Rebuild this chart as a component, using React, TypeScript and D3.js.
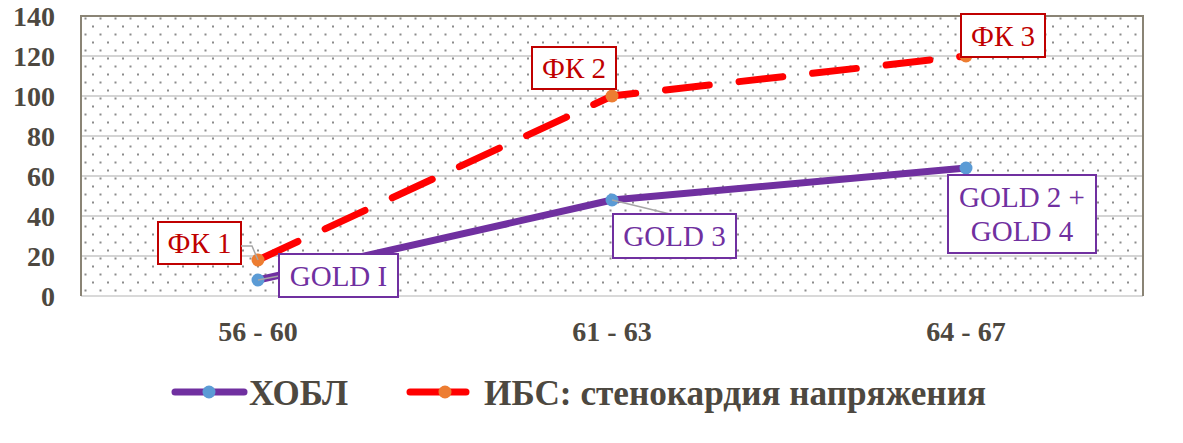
import React from "react";
import * as d3 from "d3";

const categories = ["56 - 60", "61 - 63", "64 - 67"];
const copdValues = [8, 48, 64];
const ihdValues = [18, 100, 120];
const copdLabels = [["GOLD I"], ["GOLD 3"], ["GOLD 2 +", "GOLD 4"]];
const ihdLabels = [["ФК 1"], ["ФК 2"], ["ФК 3"]];
const yTicks = [0, 20, 40, 60, 80, 100, 120, 140];
const seriesNames = ["ХОБЛ", "ИБС: стенокардия напряжения"];

const W = 1183, H = 443;
const M = { left: 81, right: 1143, top: 16, bottom: 296 };

// label box offsets relative to data point (dx,dy of box top-left), size
const copdBoxes = [
  { dx: 21, dy: -26, w: 119, h: 43 },
  { dx: 1, dy: 14, w: 123, h: 44 },
  { dx: -18, dy: 7, w: 148, h: 78 },
];
const ihdBoxes = [
  { dx: -100, dy: -38, w: 83, h: 42 },
  { dx: -80, dy: -49, w: 84, h: 42 },
  { dx: -5, dy: -42, w: 84, h: 43 },
];

export default function App() {
  const x = d3.scaleBand<string>().domain(categories).range([M.left, M.right]);
  const y = d3.scaleLinear().domain([0, 140]).range([M.bottom, M.top]);
  const cx = (i: number) => (x(categories[i]) as number) + x.bandwidth() / 2;
  const line = d3.line<number>().x((_, i) => cx(i)).y((d) => y(d));
  const tickColor = "#4d4840";
  const serif = "'Liberation Serif', 'Times New Roman', serif";
  const purple = "#7030a0";
  const red = "#c00000";

  const renderLabel = (
    i: number, v: number, lines: string[], b: { dx: number; dy: number; w: number; h: number },
    color: string, leader: [number, number] | null
  ) => {
    const px = cx(i), py = y(v);
    const bx = px + b.dx, by = py + b.dy;
    return (
      <g key={lines.join()}>
        {leader && (
          <polyline
            points={`${px},${py} ${leader[0]},${leader[1]}`}
            fill="none" stroke="#a6a6a6" strokeWidth={1.5}
          />
        )}
        <rect x={bx} y={by} width={b.w} height={b.h} fill="#fff" stroke={color} strokeWidth={2} />
        {lines.map((t, k) => (
          <text key={k} x={bx + b.w / 2} y={by + b.h / 2 + (k - (lines.length - 1) / 2) * 34 + 10}
            textAnchor="middle" fontFamily={serif} fontSize={29} fill={color}>{t}</text>
        ))}
      </g>
    );
  };

  return (
    <svg width={W} height={H} style={{ position: "absolute", left: 0, top: 0, background: "#fff" }}>
      <defs>
        <pattern id="dots" patternUnits="userSpaceOnUse" width={15} height={16} x={M.left} y={M.top}>
          <rect x={3.5} y={1.5} width={2} height={2} fill="#8c8c8c" />
          <rect x={11} y={9.5} width={2} height={2} fill="#8c8c8c" />
        </pattern>
      </defs>
      <rect x={M.left} y={M.top} width={M.right - M.left} height={M.bottom - M.top} fill="url(#dots)" />
      {yTicks.map((t) => (
        <g key={t}>
          {t > 0 && t < 140 && (
            <line x1={M.left} x2={M.right} y1={y(t)} y2={y(t)} stroke="#d4d4d4" strokeWidth={2} />
          )}
          <text x={55} y={y(t) + 10} textAnchor="end" fontFamily={serif} fontWeight="bold"
            fontSize={28} fill={tickColor}>{t}</text>
        </g>
      ))}
      <line x1={M.left} x2={M.right} y1={M.bottom} y2={M.bottom} stroke="#d9d9d9" strokeWidth={2} />
      <polyline points={`${M.left},${M.bottom} ${M.left},${M.top} ${M.right},${M.top} ${M.right},${M.bottom}`}
        fill="none" stroke="#8a8475" strokeWidth={2} />
      {categories.map((c, i) => (
        <text key={c} x={cx(i)} y={341} textAnchor="middle" fontFamily={serif} fontWeight="bold"
          fontSize={28} fill={tickColor}>{c}</text>
      ))}
      <path d={line(copdValues) || ""} fill="none" stroke={purple} strokeWidth={7} strokeLinecap="round" strokeLinejoin="round" />
      <path d={line(ihdValues) || ""} fill="none" stroke="#ff0000" strokeWidth={7} strokeLinecap="round"
        strokeDasharray="44 30" />
      {copdValues.map((v, i) => (
        <circle key={"c" + i} cx={cx(i)} cy={y(v)} r={6.5} fill="#5b9bd5" />
      ))}
      {ihdValues.map((v, i) => (
        <circle key={"r" + i} cx={cx(i)} cy={y(v)} r={6.5} fill="#ed7d31" />
      ))}
      {renderLabel(0, ihdValues[0], ihdLabels[0], ihdBoxes[0], red, null)}
      <polyline points={`${cx(0)},${y(ihdValues[0])} ${cx(0) - 6},${y(ihdValues[0]) - 14} ${cx(0) - 17},${y(ihdValues[0]) - 14}`}
        fill="none" stroke="#a6a6a6" strokeWidth={1.5} />
      {renderLabel(1, ihdValues[1], ihdLabels[1], ihdBoxes[1], red, null)}
      {renderLabel(2, ihdValues[2], ihdLabels[2], ihdBoxes[2], red, null)}
      {renderLabel(0, copdValues[0], copdLabels[0], copdBoxes[0], purple, [cx(0) + 21, y(copdValues[0]) - 4])}
      {renderLabel(1, copdValues[1], copdLabels[1], copdBoxes[1], purple, [cx(1) + 58, y(copdValues[1]) + 14])}
      {renderLabel(2, copdValues[2], copdLabels[2], copdBoxes[2], purple, null)}
      {/* legend */}
      <line x1={175} x2={244} y1={392} y2={392} stroke={purple} strokeWidth={7} strokeLinecap="round" />
      <circle cx={209} cy={392} r={6.5} fill="#5b9bd5" />
      <text x={249} y={405} fontFamily={serif} fontWeight="bold" fontSize={35} fill={tickColor}
        textLength={99} lengthAdjust="spacingAndGlyphs">{seriesNames[0]}</text>
      <line x1={410} x2={466} y1={392} y2={392} stroke="#ff0000" strokeWidth={7} strokeLinecap="round" />
      <circle cx={445} cy={392} r={6.5} fill="#ed7d31" />
      <text x={484} y={405} fontFamily={serif} fontWeight="bold" fontSize={35} fill={tickColor}
        textLength={502} lengthAdjust="spacingAndGlyphs">{seriesNames[1]}</text>
    </svg>
  );
}
